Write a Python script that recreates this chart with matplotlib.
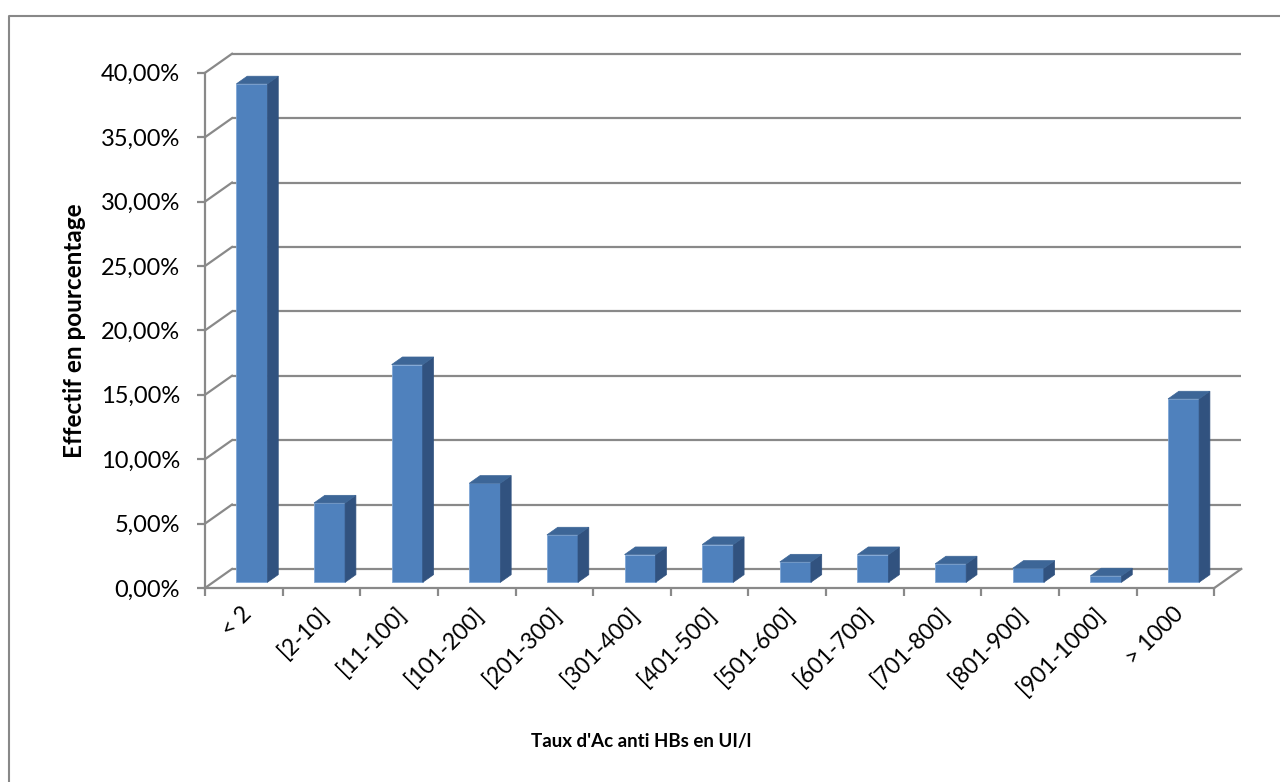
import matplotlib.pyplot as plt
from matplotlib.patches import Polygon
from matplotlib.lines import Line2D
import matplotlib.transforms as mtransforms

plt.rcParams['font.family'] = ['Lato', 'DejaVu Sans']

categories = ['< 2', '[2-10]', '[11-100]', '[101-200]', '[201-300]', '[301-400]',
              '[401-500]', '[501-600]', '[601-700]', '[701-800]', '[801-900]',
              '[901-1000]', '> 1000']
percent = [38.7, 6.16, 16.9, 7.69, 3.68, 2.15, 2.93, 1.58, 2.15, 1.43, 1.09, 0.5, 14.24]
y_ticks = [0, 5, 10, 15, 20, 25, 30, 35, 40]

# oblique 3d look: depth offset of the back wall, in data units
ddx = 0.348
ddy = 1.48
d0, d1 = 0.3, 0.7      # bar depth range (fraction of floor depth)
bw = 0.4               # bar width
grid_c = '#898989'
front_c = '#4F81BD'
side_c = '#31527F'
top_c = '#3D6697'

fig = plt.figure(figsize=(12.8, 7.82), dpi=100)
ax = fig.add_axes([205/1280, (782-588)/782, 1036.3/1280, 535.8/782])
n = len(categories)
ax.set_xlim(0, n + ddx)
ax.set_ylim(0, 41.6)

# back wall gridlines + side wall diagonals
for v in y_ticks:
    ax.plot([ddx, n + ddx], [v + ddy, v + ddy], color=grid_c, lw=1.6, zorder=1,
            clip_on=False, solid_capstyle='butt')
    ax.plot([0, ddx], [v, v + ddy], color=grid_c, lw=1.6, zorder=1, clip_on=False)
# floor right edge
ax.plot([n, n + ddx], [0, ddy], color=grid_c, lw=1.6, zorder=1, clip_on=False)

# bars
for i, v in enumerate(percent):
    x0 = i + 0.5 - bw / 2 + d0 * ddx
    y0 = d0 * ddy
    ox = (d1 - d0) * ddx
    oy = (d1 - d0) * ddy
    ax.bar(x0, v, width=bw, bottom=y0, align='edge', color=front_c,
           edgecolor='#7FA6D6', linewidth=0.6, zorder=3)
    side = Polygon([(x0 + bw, y0), (x0 + bw + ox, y0 + oy),
                    (x0 + bw + ox, y0 + v + oy), (x0 + bw, y0 + v)],
                   closed=True, facecolor=side_c, edgecolor=side_c, lw=0.5, zorder=3)
    top = Polygon([(x0, y0 + v), (x0 + bw, y0 + v),
                   (x0 + bw + ox, y0 + v + oy), (x0 + ox, y0 + v + oy)],
                  closed=True, facecolor=top_c, edgecolor=top_c, lw=0.5, zorder=3)
    ax.add_patch(side)
    ax.add_patch(top)

# front axes
for s in ['top', 'right']:
    ax.spines[s].set_visible(False)
ax.spines['left'].set_bounds(0, 40)
ax.spines['bottom'].set_bounds(0, n)
for s in ['left', 'bottom']:
    ax.spines[s].set_color(grid_c)
    ax.spines[s].set_linewidth(1.6)
    ax.spines[s].set_zorder(2)

ax.set_yticks(y_ticks)
ax.set_yticklabels([('%.2f' % v).replace('.', ',') + '%' for v in y_ticks], fontsize=17)
ax.set_xticks(range(n + 1))
ax.set_xticklabels([])
ax.tick_params(axis='both', direction='out', length=6, width=1.6, color=grid_c)
ax.tick_params(axis='y', pad=12)

off = mtransforms.ScaledTranslation(-0.03, -0.15, fig.dpi_scale_trans)
trans = mtransforms.blended_transform_factory(ax.transData, ax.transAxes) + off
for i, lab in enumerate(categories):
    ax.text(i + 0.5, 0, lab, transform=trans, rotation=45, ha='right', va='top',
            rotation_mode='anchor', fontsize=16.5)

ax.set_facecolor('none')
fig.text(641/1280, 1 - 741/782, "Taux d'Ac anti HBs en UI/l", ha='center', va='center',
         fontsize=13.5, fontweight='bold')
fig.text(75/1280, 1 - 331/782, 'Effectif en pourcentage', ha='center', va='center',
         rotation=90, fontsize=17.5, fontweight='bold')

# chart area border (top and left visible)
fig.add_artist(Line2D([9/1280, 9/1280, 1.0], [0.0, 1 - 15.5/782, 1 - 15.5/782],
                      transform=fig.transFigure, color='#888888', lw=1.5))

fig.savefig('out.png', dpi=100)
